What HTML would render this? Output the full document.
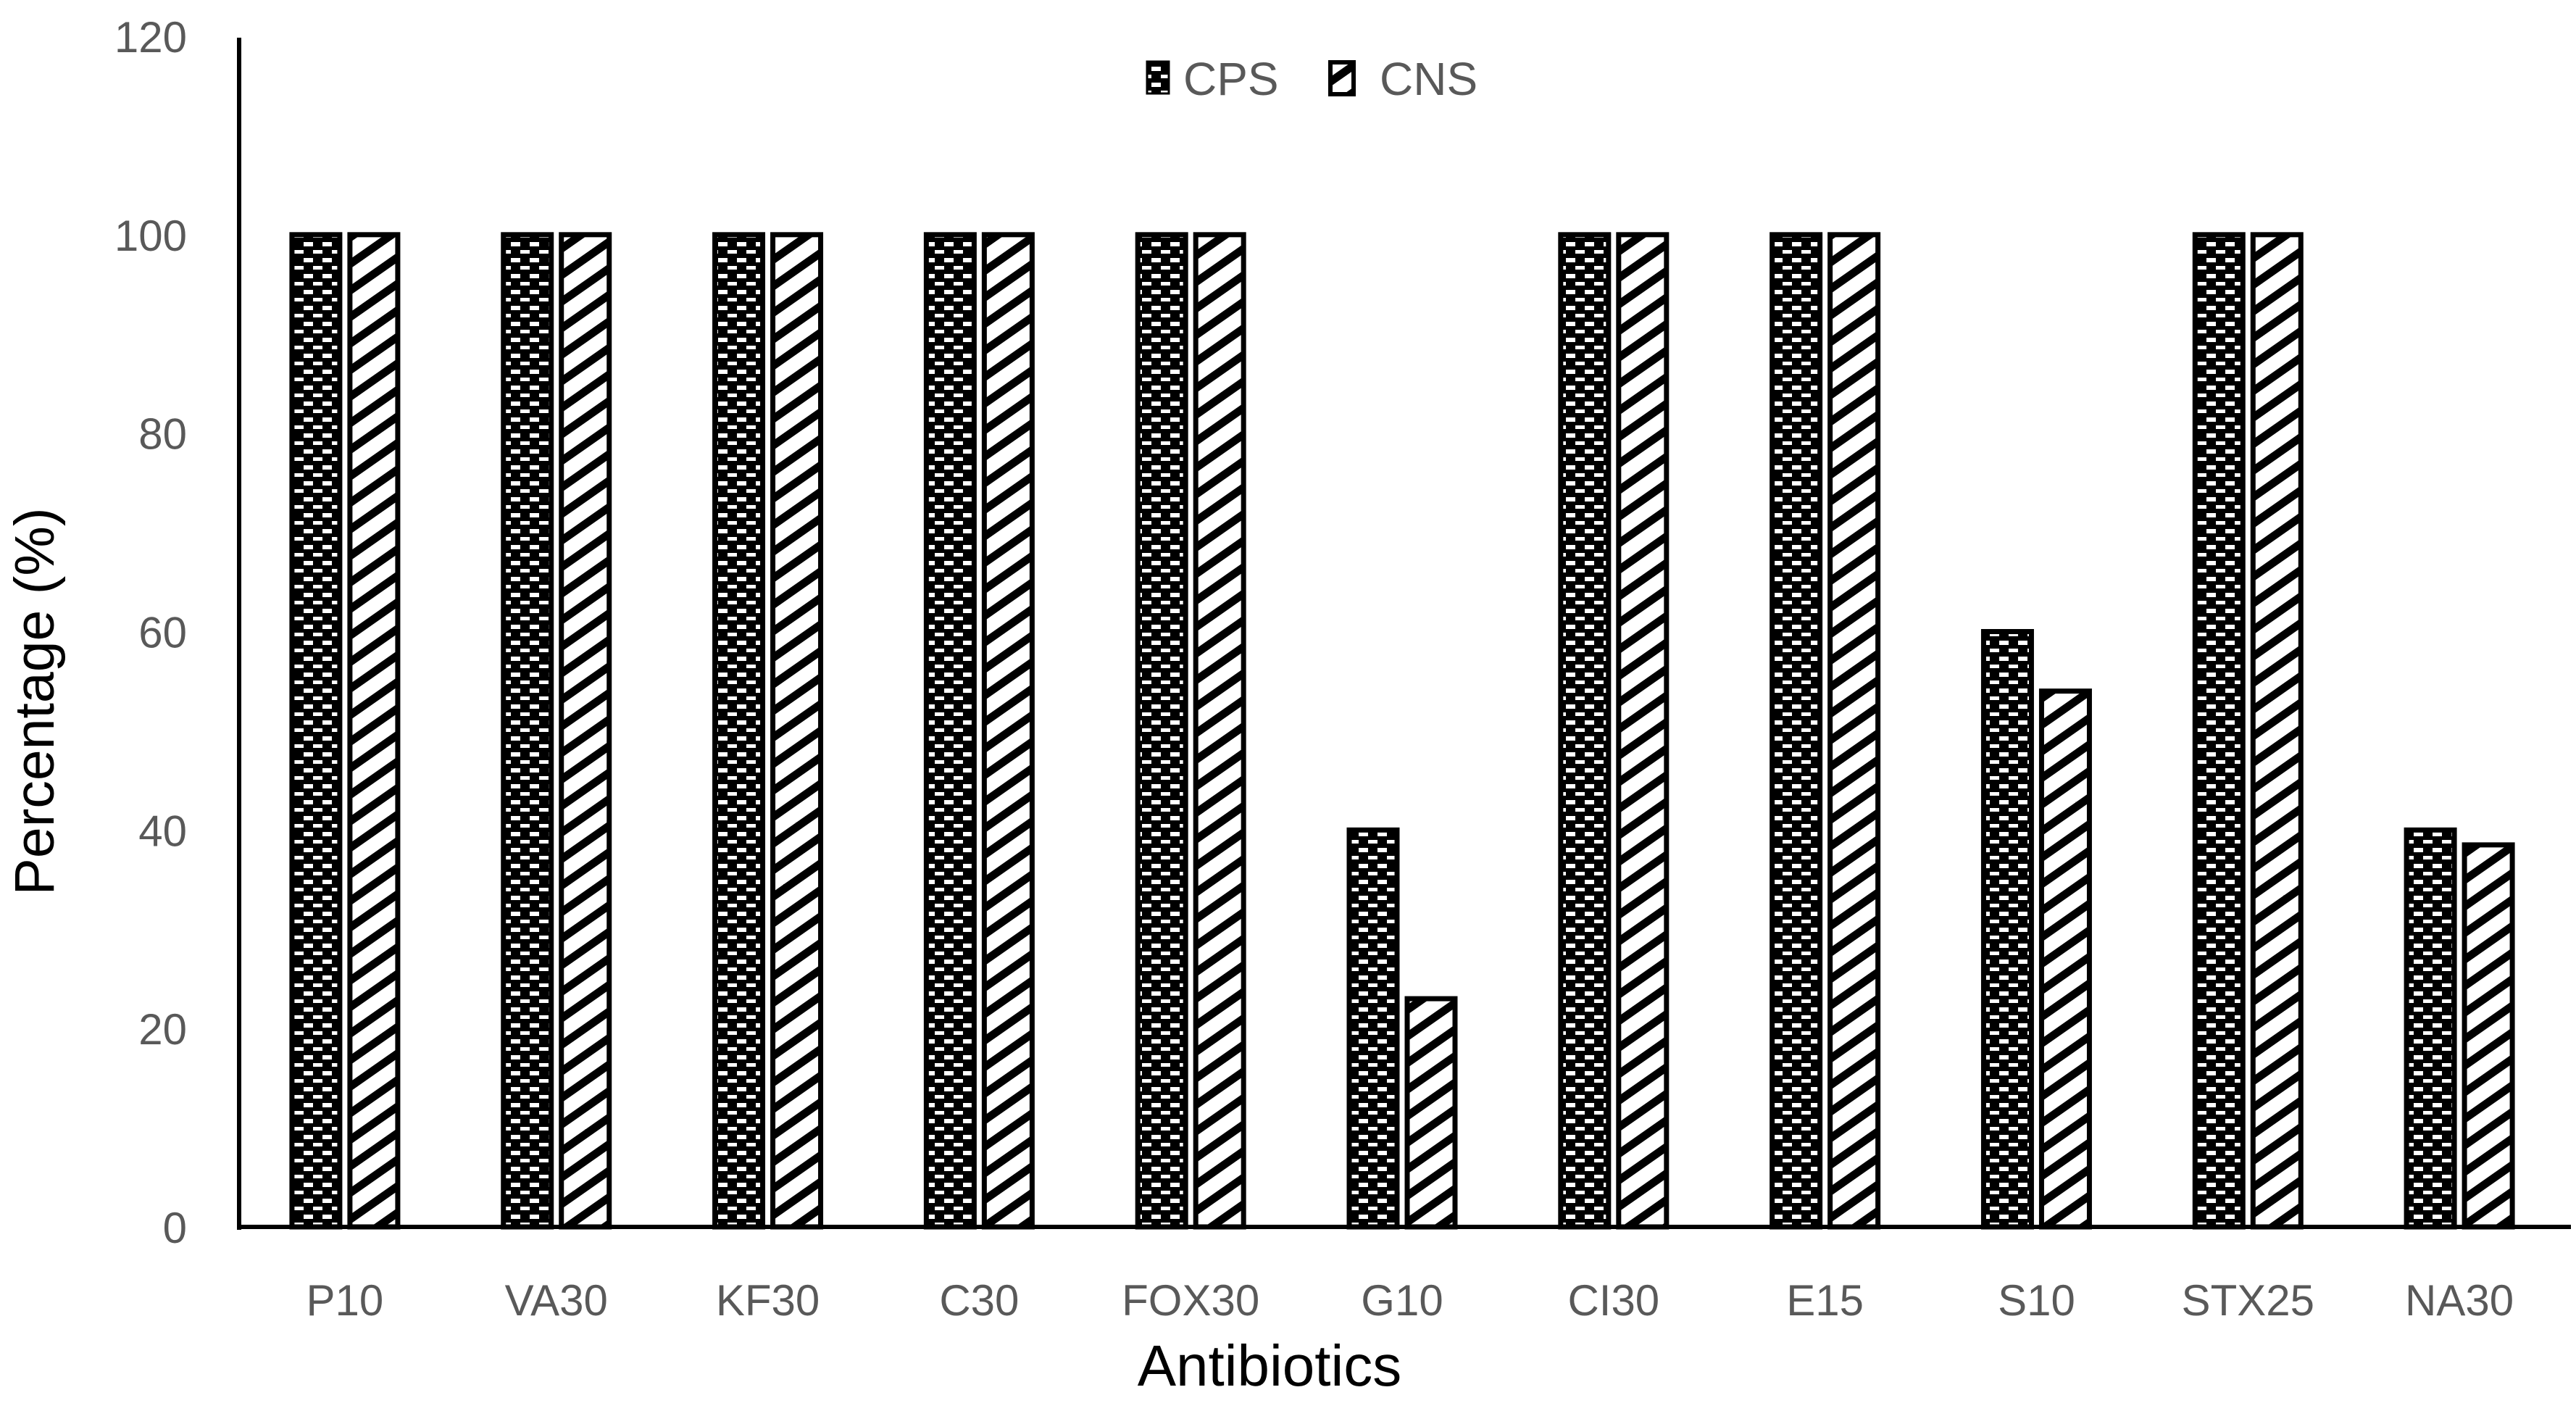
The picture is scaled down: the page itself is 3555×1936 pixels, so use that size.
<!DOCTYPE html>
<html><head><meta charset="utf-8"><style>
html,body{margin:0;padding:0;background:#fff;}
svg{display:block;font-family:"Liberation Sans",sans-serif;}
</style></head><body>
<svg id="chart" width="3555" height="1936" viewBox="0 0 3555 1936">
<defs>
<pattern id="dots" width="26" height="22" patternUnits="userSpaceOnUse">
<rect width="26" height="22" fill="#000"/>
<rect x="3" y="4" width="13" height="6" fill="#fff"/>
<rect x="16" y="15" width="13" height="5" fill="#fff"/>
<rect x="-10" y="15" width="13" height="5" fill="#fff"/>
</pattern>
<pattern id="stripes" width="30" height="30" patternUnits="userSpaceOnUse" patternTransform="rotate(-35)">
<rect width="30" height="30" fill="#fff"/>
<rect width="30" height="11" fill="#000"/>
</pattern>
</defs>
<g id="marks"></g>
<line x1="330" y1="52" x2="330" y2="1697" stroke="#000" stroke-width="6"/>
<line x1="327" y1="1693" x2="3548" y2="1693" stroke="#000" stroke-width="6"/>
<g id="yticks" fill="#595959" font-size="60" text-anchor="end"></g>
<g id="xticks" fill="#595959" font-size="60" text-anchor="middle"></g>
<text x="1752" y="1912" font-size="80" text-anchor="middle" fill="#000">Antibiotics</text>
<text transform="translate(74,968) rotate(-90)" font-size="77" text-anchor="middle" fill="#000">Percentage (%)</text>
<g>
<g>
<rect x="1583" y="85" width="30" height="44" fill="url(#dots)" stroke="#000" stroke-width="3"/>
<text x="1633" y="131" font-size="64" fill="#595959">CPS</text>
</g>
<g>
<rect x="1836" y="86" width="32" height="44" fill="url(#stripes)" stroke="#000" stroke-width="6"/>
<text x="1904" y="131" font-size="64" fill="#595959">CNS</text>
</g>
</g>
</svg>
<script>
const categories = ["P10","VA30","KF30","C30","FOX30","G10","CI30","E15","S10","STX25","NA30"];
const cpsValues = [100,100,100,100,100,40,100,100,60,100,40];
const cnsValues = [100,100,100,100,100,23,100,100,54,100,38.5];
const yTicks = [0,20,40,60,80,100,120];

const x0 = 330, x1 = 3540, y0 = 1693, yTop = 50, yMax = 120;
const band = (x1 - x0) / categories.length;
function xCenter(i){ return x0 + band*(i+0.5); }
function yPos(v){ return y0 - (y0 - yTop) * v / yMax; }
const barW = 66, gap = 14;
const NS = "http://www.w3.org/2000/svg";
const marks = document.getElementById('marks');
function bar(i, v, fill, name, offset){
  const r = document.createElementNS(NS,'rect');
  const xc = xCenter(i) + offset;
  r.setAttribute('x', xc - barW/2);
  r.setAttribute('y', yPos(v));
  r.setAttribute('width', barW);
  r.setAttribute('height', y0 - yPos(v));
  r.setAttribute('fill', fill);
  r.setAttribute('stroke', '#000');
  r.setAttribute('stroke-width', '7');
  
  
  marks.appendChild(r);
}
categories.forEach((c,i)=>{
  bar(i, cpsValues[i], 'url(#dots)', 'bar-cps-' + c.toLowerCase(), -(barW+gap)/2);
  bar(i, cnsValues[i], 'url(#stripes)', 'bar-cns-' + c.toLowerCase(), (barW+gap)/2);
});
const yt = document.getElementById('yticks');
yTicks.forEach(v=>{
  const t = document.createElementNS(NS,'text');
  t.setAttribute('x', 258);
  t.setAttribute('y', yPos(v) + 22);
  t.textContent = v;
  
  
  yt.appendChild(t);
});
const xt = document.getElementById('xticks');
categories.forEach((c,i)=>{
  const t = document.createElementNS(NS,'text');
  t.setAttribute('x', xCenter(i));
  t.setAttribute('y', 1815);
  t.textContent = c;
  
  
  xt.appendChild(t);
});
</script>
</body></html>
